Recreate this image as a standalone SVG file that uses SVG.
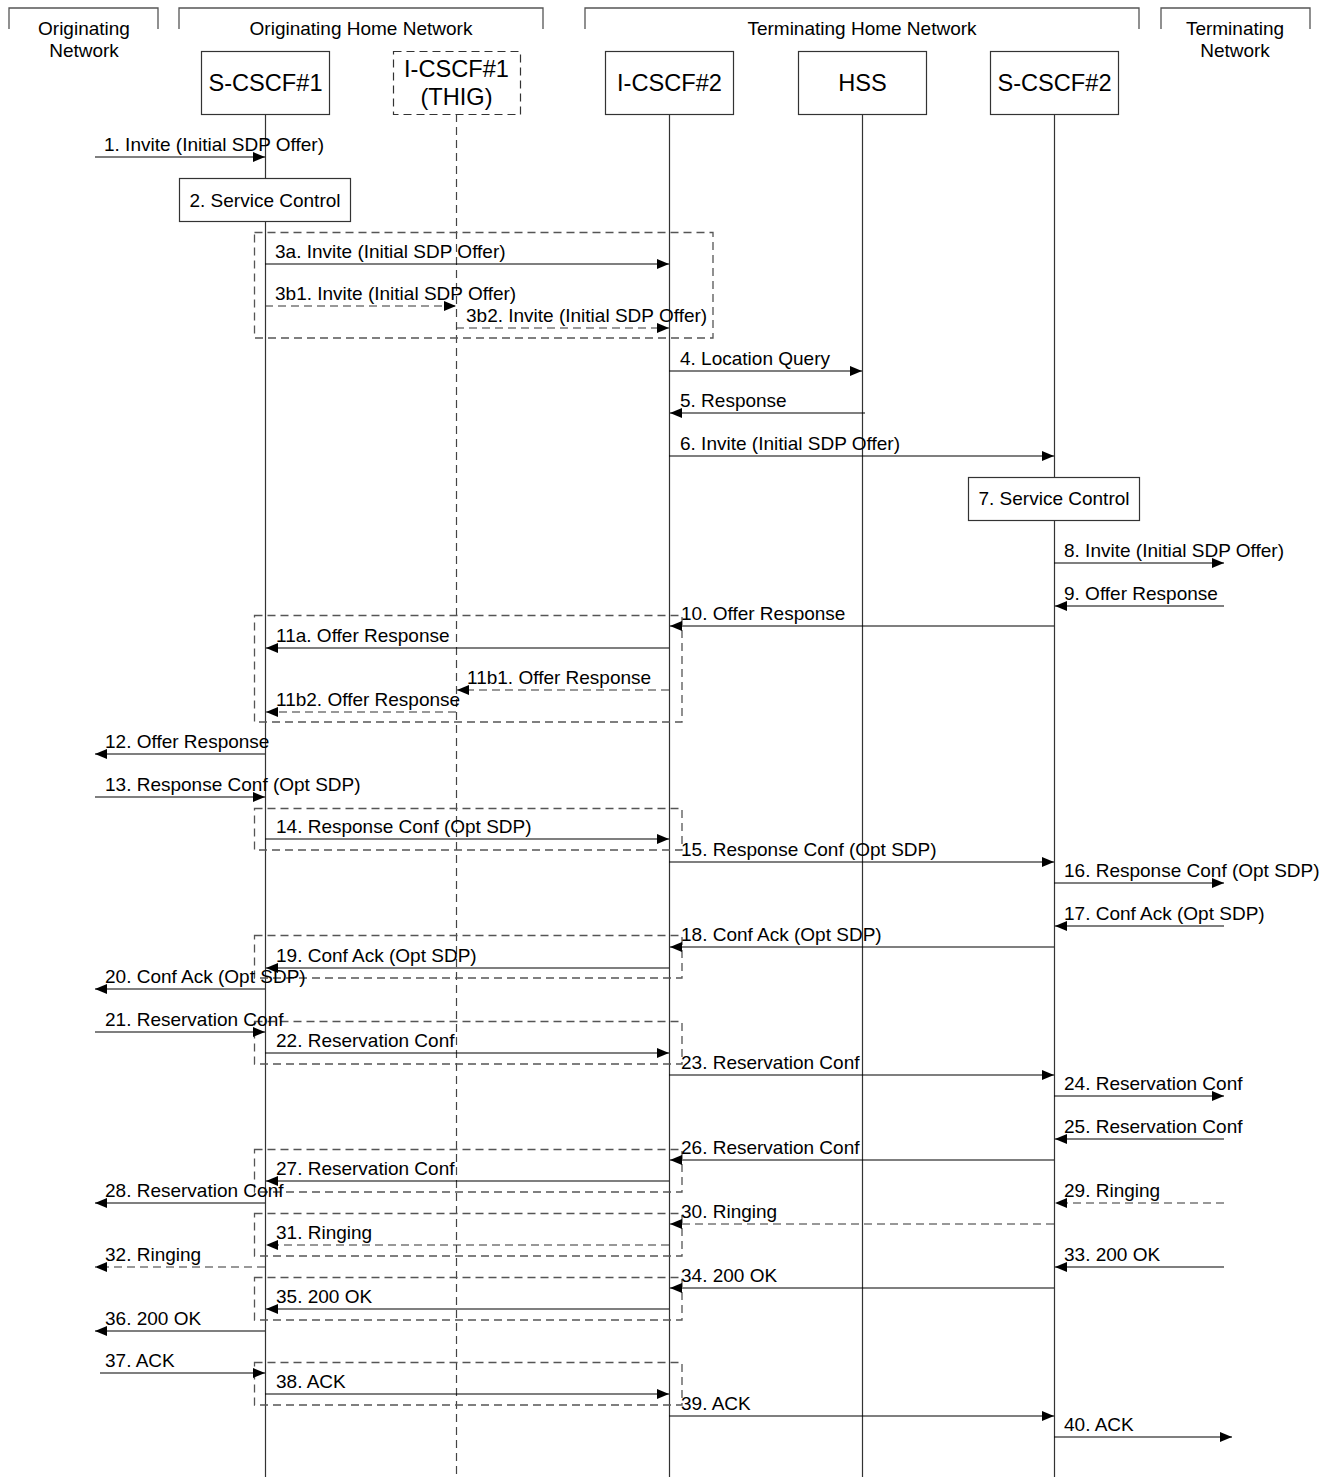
<svg xmlns="http://www.w3.org/2000/svg" width="1336" height="1477" viewBox="0 0 1336 1477">
<style>
text{font-family:"Liberation Sans",Arial,sans-serif;fill:#000}
.hd{font-size:19px;text-anchor:middle}
.bx{font-size:23.6px;text-anchor:middle}
.lb{font-size:19px}
.node{fill:#fff;stroke:#333;stroke-width:1.2}
.dnode{fill:#fff;stroke:#333;stroke-width:1.2;stroke-dasharray:8 5}
.life{stroke:#333;stroke-width:1.2;fill:none}
.dlife{stroke:#444;stroke-width:1.2;fill:none;stroke-dasharray:8 5}
.brk{stroke:#555;stroke-width:1.3;fill:none}
.grp{stroke:#555;stroke-width:1.3;fill:none;stroke-dasharray:8 5}
.m{stroke:#000;stroke-width:1.2;fill:none;marker-end:url(#ah)}
.d{stroke-dasharray:8 5;stroke:#333}
</style>
<defs>
<marker id="ah" markerUnits="userSpaceOnUse" markerWidth="14" markerHeight="12" refX="12" refY="5" orient="auto">
<path d="M0,0 L12,5 L0,10 z" fill="#000"/>
</marker>
</defs>
<rect width="1336" height="1477" fill="#fff"/>

<g id="headers">
<path class="brk" d="M9,29 V8 H158 V29"/>
<text class="hd" x="84" y="35">Originating</text>
<text class="hd" x="84" y="57">Network</text>
<path class="brk" d="M179,29 V8 H543 V29"/>
<text class="hd" x="361" y="35">Originating Home Network</text>
<path class="brk" d="M585,29 V8 H1139 V29"/>
<text class="hd" x="862" y="35">Terminating Home Network</text>
<path class="brk" d="M1161,29 V8 H1310 V29"/>
<text class="hd" x="1235" y="35">Terminating</text>
<text class="hd" x="1235" y="57">Network</text>
</g>

<g id="lifelines">
<line class="life" x1="265.5" y1="114" x2="265.5" y2="1477"/>
<line class="dlife" x1="456.5" y1="114" x2="456.5" y2="1477"/>
<line class="life" x1="669.5" y1="114" x2="669.5" y2="1477"/>
<line class="life" x1="862.5" y1="114" x2="862.5" y2="1477"/>
<line class="life" x1="1054.5" y1="114" x2="1054.5" y2="1477"/>
</g>

<g id="groups">
<rect class="grp" x="254.5" y="232.5" width="458.5" height="105.5"/>
<rect class="grp" x="254.5" y="615.5" width="427.5" height="106.5"/>
<rect class="grp" x="254.5" y="808.5" width="427.5" height="41.5"/>
<rect class="grp" x="254.5" y="935.5" width="427.5" height="42.5"/>
<rect class="grp" x="254.5" y="1021.5" width="427.5" height="42.5"/>
<rect class="grp" x="254.5" y="1149.5" width="427.5" height="42.5"/>
<rect class="grp" x="254.5" y="1213.5" width="427.5" height="42.5"/>
<rect class="grp" x="254.5" y="1277.5" width="427.5" height="42.5"/>
<rect class="grp" x="254.5" y="1362.5" width="427.5" height="42.5"/>
</g>

<g id="n-scscf1"><rect class="node" x="201.5" y="51.5" width="128" height="63"/><text class="bx" x="265.5" y="91">S-CSCF#1</text></g>
<g id="n-icscf1"><rect class="dnode" x="393.5" y="51.5" width="127" height="63"/><text class="bx" x="456.5" y="77">I-CSCF#1</text><text class="bx" x="456.5" y="105">(THIG)</text></g>
<g id="n-icscf2"><rect class="node" x="605.5" y="51.5" width="128" height="63"/><text class="bx" x="669.5" y="91">I-CSCF#2</text></g>
<g id="n-hss"><rect class="node" x="798.5" y="51.5" width="128" height="63"/><text class="bx" x="862.5" y="91">HSS</text></g>
<g id="n-scscf2"><rect class="node" x="990.5" y="51.5" width="128" height="63"/><text class="bx" x="1054.5" y="91">S-CSCF#2</text></g>
<g id="n-sc2"><rect class="node" x="179.5" y="178.5" width="171" height="43"/><text class="lb" x="265" y="207" text-anchor="middle">2. Service Control</text></g>
<g id="n-sc7"><rect class="node" x="968.5" y="477.5" width="171" height="43"/><text class="lb" x="1054" y="505" text-anchor="middle">7. Service Control</text></g>

<g id="connectors">
<line class="m" x1="95" y1="157" x2="265" y2="157"/>
<line class="m" x1="265" y1="264" x2="669" y2="264"/>
<line class="m d" x1="265" y1="306" x2="456" y2="306"/>
<line class="m d" x1="456" y1="328" x2="669" y2="328"/>
<line class="m" x1="669" y1="371" x2="862" y2="371"/>
<line class="m" x1="865" y1="413" x2="670" y2="413"/>
<line class="m" x1="669" y1="456" x2="1054" y2="456"/>
<line class="m" x1="1054" y1="563" x2="1224" y2="563"/>
<line class="m" x1="1224" y1="606" x2="1055" y2="606"/>
<line class="m" x1="1054" y1="626" x2="670" y2="626"/>
<line class="m" x1="669" y1="648" x2="266" y2="648"/>
<line class="m d" x1="669" y1="690" x2="457" y2="690"/>
<line class="m d" x1="456" y1="712" x2="266" y2="712"/>
<line class="m" x1="265" y1="754" x2="95" y2="754"/>
<line class="m" x1="95" y1="797" x2="265" y2="797"/>
<line class="m" x1="265" y1="839" x2="669" y2="839"/>
<line class="m" x1="669" y1="862" x2="1054" y2="862"/>
<line class="m" x1="1054" y1="883" x2="1224" y2="883"/>
<line class="m" x1="1224" y1="926" x2="1055" y2="926"/>
<line class="m" x1="1054" y1="947" x2="670" y2="947"/>
<line class="m" x1="669" y1="968" x2="266" y2="968"/>
<line class="m" x1="265" y1="989" x2="95" y2="989"/>
<line class="m" x1="95" y1="1032" x2="265" y2="1032"/>
<line class="m" x1="265" y1="1053" x2="669" y2="1053"/>
<line class="m" x1="669" y1="1075" x2="1054" y2="1075"/>
<line class="m" x1="1054" y1="1096" x2="1224" y2="1096"/>
<line class="m" x1="1224" y1="1139" x2="1055" y2="1139"/>
<line class="m" x1="1054" y1="1160" x2="670" y2="1160"/>
<line class="m" x1="669" y1="1181" x2="266" y2="1181"/>
<line class="m" x1="265" y1="1203" x2="95" y2="1203"/>
<line class="m d" x1="1224" y1="1203" x2="1055" y2="1203"/>
<line class="m d" x1="1054" y1="1224" x2="670" y2="1224"/>
<line class="m d" x1="669" y1="1245" x2="266" y2="1245"/>
<line class="m d" x1="265" y1="1267" x2="95" y2="1267"/>
<line class="m" x1="1224" y1="1267" x2="1055" y2="1267"/>
<line class="m" x1="1054" y1="1288" x2="670" y2="1288"/>
<line class="m" x1="669" y1="1309" x2="266" y2="1309"/>
<line class="m" x1="265" y1="1331" x2="95" y2="1331"/>
<line class="m" x1="100" y1="1373" x2="265" y2="1373"/>
<line class="m" x1="265" y1="1394" x2="669" y2="1394"/>
<line class="m" x1="669" y1="1416" x2="1054" y2="1416"/>
<line class="m" x1="1054" y1="1437" x2="1232" y2="1437"/>
</g>

<g id="labels">
<text class="lb" x="104" y="151">1. Invite (Initial SDP Offer)</text>
<text class="lb" x="275" y="258">3a. Invite (Initial SDP Offer)</text>
<text class="lb" x="275" y="300">3b1. Invite (Initial SDP Offer)</text>
<text class="lb" x="466" y="322">3b2. Invite (Initial SDP Offer)</text>
<text class="lb" x="680" y="365">4. Location Query</text>
<text class="lb" x="680" y="407">5. Response</text>
<text class="lb" x="680" y="450">6. Invite (Initial SDP Offer)</text>
<text class="lb" x="1064" y="557">8. Invite (Initial SDP Offer)</text>
<text class="lb" x="1064" y="600">9. Offer Response</text>
<text class="lb" x="681" y="620">10. Offer Response</text>
<text class="lb" x="276" y="642">11a. Offer Response</text>
<text class="lb" x="467" y="684">11b1. Offer Response</text>
<text class="lb" x="276" y="706">11b2. Offer Response</text>
<text class="lb" x="105" y="748">12. Offer Response</text>
<text class="lb" x="105" y="791">13. Response Conf (Opt SDP)</text>
<text class="lb" x="276" y="833">14. Response Conf (Opt SDP)</text>
<text class="lb" x="681" y="856">15. Response Conf (Opt SDP)</text>
<text class="lb" x="1064" y="877">16. Response Conf (Opt SDP)</text>
<text class="lb" x="1064" y="920">17. Conf Ack (Opt SDP)</text>
<text class="lb" x="681" y="941">18. Conf Ack (Opt SDP)</text>
<text class="lb" x="276" y="962">19. Conf Ack (Opt SDP)</text>
<text class="lb" x="105" y="983">20. Conf Ack (Opt SDP)</text>
<text class="lb" x="105" y="1026">21. Reservation Conf</text>
<text class="lb" x="276" y="1047">22. Reservation Conf</text>
<text class="lb" x="681" y="1069">23. Reservation Conf</text>
<text class="lb" x="1064" y="1090">24. Reservation Conf</text>
<text class="lb" x="1064" y="1133">25. Reservation Conf</text>
<text class="lb" x="681" y="1154">26. Reservation Conf</text>
<text class="lb" x="276" y="1175">27. Reservation Conf</text>
<text class="lb" x="105" y="1197">28. Reservation Conf</text>
<text class="lb" x="1064" y="1197">29. Ringing</text>
<text class="lb" x="681" y="1218">30. Ringing</text>
<text class="lb" x="276" y="1239">31. Ringing</text>
<text class="lb" x="105" y="1261">32. Ringing</text>
<text class="lb" x="1064" y="1261">33. 200 OK</text>
<text class="lb" x="681" y="1282">34. 200 OK</text>
<text class="lb" x="276" y="1303">35. 200 OK</text>
<text class="lb" x="105" y="1325">36. 200 OK</text>
<text class="lb" x="105" y="1367">37. ACK</text>
<text class="lb" x="276" y="1388">38. ACK</text>
<text class="lb" x="681" y="1410">39. ACK</text>
<text class="lb" x="1064" y="1431">40. ACK</text>
</g>
</svg>
